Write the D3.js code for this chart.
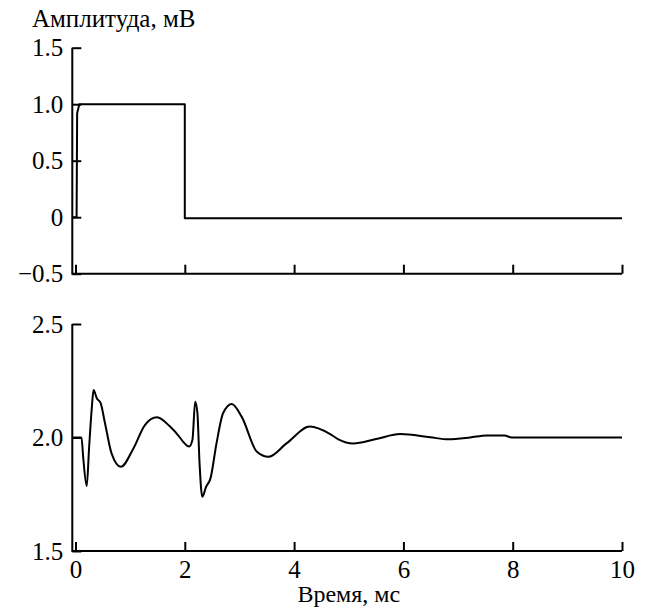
<html>

<head>
    <script src="https://d3js.org/d3.v7.min.js"></script>
</head>

<body style="margin:0;background:white">
    <svg></svg>
    <script>
        // top panel: stimulus pulse
        const pulseT = [-0.05, 0.02, 0.03, 0.07, 2.0, 2.0, 10];
        const pulseV = [0, 0, 0.92, 1.0, 1.0, -0.01, -0.01];

        // bottom panel: response
        const respT = [-0.05, 0, 0.11, 0.14, 0.205, 0.25, 0.30, 0.33, 0.39, 0.46, 0.54, 0.66, 0.83, 1.06, 1.27, 1.49, 1.73,
            1.91, 1.97, 2.08, 2.14, 2.19, 2.23, 2.27, 2.32, 2.39, 2.47, 2.58, 2.70, 2.86, 3.04, 3.32, 3.53, 3.86, 4.29,
            4.66, 4.81, 5.08, 5.5, 5.94, 6.49, 6.82, 7.22, 7.52, 7.85, 7.98, 10];
        const respV = [2.0, 2.0, 2.0, 1.915, 1.786, 1.96, 2.136, 2.209, 2.173, 2.151, 2.063, 1.93, 1.871, 1.952, 2.055, 2.089, 2.048,
            2.0, 1.981, 1.96, 1.99, 2.158, 2.11, 1.886, 1.739, 1.783, 1.82, 1.974, 2.107, 2.148, 2.092, 1.937, 1.915, 1.974, 2.048,
            2.015, 1.992, 1.974, 1.993, 2.015, 2.001, 1.992, 2.0, 2.009, 2.009, 2.0, 2.0];

        const xTicks = [0, 2, 4, 6, 8, 10];
        const topTicks = [1.5, 1.0, 0.5, 0, -0.5];
        const topLabels = ["1.5", "1.0", "0.5", "0", "\u22120.5"];
        const botTicks = [2.5, 2.0, 1.5];
        const botLabels = ["2.5", "2.0", "1.5"];

        const width = 645
        const height = 614
        const axisX = 72.3
        const font = "Liberation Serif, Tinos, Times New Roman, DejaVu Serif, serif"
        const fontSize = 25
        const tickLen = 9

        const xScale = d3.scaleLinear([0, 10], [75.5, 622]);
        const yTop = d3.scaleLinear([-0.5, 1.5], [273.7, 47.7]);
        const yBot = d3.scaleLinear([1.5, 2.5], [551, 324]);

        const svg = d3.select("svg")
            .attr("width", width)
            .attr("height", height)
            .attr("viewBox", [0, 0, width, height]);

        function panel(yScale, ticks, labels, showX) {
            const y0 = yScale.range()[0];
            const y1 = yScale.range()[1];

            // x axis, ticks pointing up
            const xAxis = d3.axisBottom(xScale).tickValues(xTicks)
                .tickSize(-tickLen).tickSizeOuter(0)
                .tickFormat(showX ? d3.format("d") : "");
            svg.append("g")
                .attr("transform", `translate(0,${y0})`)
                .call(xAxis)
                .attr("font-family", font)
                .attr("font-size", fontSize)
                .call(g => g.select(".domain").remove())
                .call(g => g.selectAll(".tick line").attr("stroke", "#000").attr("stroke-width", 2))
                .call(g => g.selectAll(".tick text")
                    .attr("y", 9).attr("dy", "0.71em")
                    .attr("fill", "#000"));

            // y axis, ticks pointing right
            const yAxis = d3.axisLeft(yScale).tickValues(ticks)
                .tickSize(0).tickSizeOuter(0)
                .tickFormat((d, i) => labels[i]);
            svg.append("g")
                .attr("transform", `translate(${axisX},0)`)
                .call(yAxis)
                .attr("font-family", font)
                .attr("font-size", fontSize)
                .call(g => g.select(".domain").remove())
                .call(g => g.selectAll(".tick line").attr("x2", tickLen).attr("stroke", "#000").attr("stroke-width", 2))
                .call(g => g.selectAll(".tick text")
                    .attr("x", -9)
                    .attr("fill", "#000"));

            // axis lines
            svg.append("path")
                .attr("fill", "none")
                .attr("stroke", "#000")
                .attr("stroke-width", 2)
                .attr("d", `M${axisX},${y1}V${y0}H${xScale.range()[1]}`);
        }

        panel(yTop, topTicks, topLabels, false);
        panel(yBot, botTicks, botLabels, true);

        const lineTop = d3.line()
            .x(i => xScale(pulseT[i]))
            .y(i => yTop(pulseV[i]));
        svg.append("path")
            .attr("fill", "none")
            .attr("stroke", "#000")
            .attr("stroke-width", 2)
            .attr("stroke-linejoin", "round")
            .attr("d", lineTop(d3.range(pulseT.length)));

        const lineBot = d3.line()
            .curve(d3.curveMonotoneX)
            .x(i => xScale(respT[i]))
            .y(i => yBot(respV[i]));
        svg.append("path")
            .attr("fill", "none")
            .attr("stroke", "#000")
            .attr("stroke-width", 2)
            .attr("stroke-linejoin", "round")
            .attr("d", lineBot(d3.range(respT.length)));

        // titles
        svg.append("text")
            .attr("x", 32)
            .attr("y", 27)
            .attr("font-family", font)
            .attr("font-size", fontSize)
            .text("Амплитуда, мВ");

        svg.append("text")
            .attr("x", (xScale.range()[0] + xScale.range()[1]) / 2)
            .attr("y", 602)
            .attr("text-anchor", "middle")
            .attr("font-family", font)
            .attr("font-size", 24)
            .text("Время, мс");
    </script>
</body>

</html>
